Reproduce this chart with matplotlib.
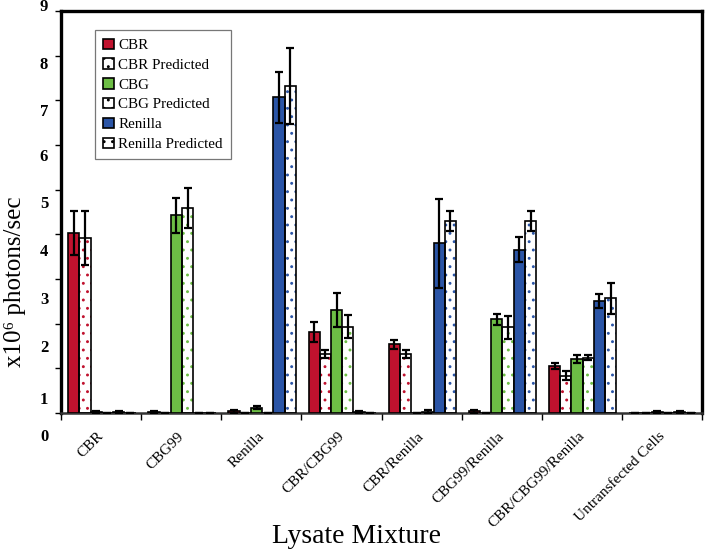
import numpy as np
import matplotlib
matplotlib.use("Agg")
import matplotlib.pyplot as plt
from matplotlib.patches import Patch
import matplotlib.transforms as mtransforms

plt.rcParams['font.family'] = ['Liberation Serif', 'DejaVu Serif']
plt.rcParams['hatch.linewidth'] = 0.9

# data
groups = ['CBR', 'CBG99', 'Renilla', 'CBR/CBG99', 'CBR/Renilla',
          'CBG99/Renilla', 'CBR/CBG99/Renilla', 'Untransfected Cells']
series = ['CBR', 'CBR Predicted', 'CBG', 'CBG Predicted', 'Renilla', 'Renilla Predicted']

cbr      = [4.03, 0.03, 0.04, 1.81, 1.54, 0.04, 1.05, 0.0]
cbr_err  = [0.50, 0.02, 0.03, 0.22, 0.10, 0.03, 0.06, 0.0]
cbr_p    = [3.92, 0.0, 0.0, 1.32, 1.32, 0.0, 0.83, 0.0]
cbr_p_e  = [0.60, 0.0, 0.0, 0.08, 0.08, 0.0, 0.10, 0.0]
cbg      = [0.03, 4.43, 0.12, 2.31, 0.0, 2.10, 1.20, 0.02]
cbg_err  = [0.02, 0.39, 0.03, 0.38, 0.0, 0.12, 0.09, 0.02]
cbg_p    = [0.0, 4.59, 0.0, 1.93, 0.02, 1.92, 1.24, 0.0]
cbg_p_e  = [0.0, 0.45, 0.0, 0.26, 0.05, 0.26, 0.06, 0.0]
ren      = [0.03, 0.0, 7.07, 0.02, 3.80, 3.65, 2.51, 0.02]
ren_err  = [0.02, 0.0, 0.57, 0.02, 1.00, 0.28, 0.15, 0.02]
ren_p    = [0.0, 0.0, 7.32, 0.0, 4.30, 4.30, 2.57, 0.0]
ren_p_e  = [0.0, 0.0, 0.85, 0.0, 0.23, 0.22, 0.35, 0.0]

ytick_text = ['0', '1', '2', '3', '4', '5', '6', '7', '8', '9']

red, green, blue = '#C0122E', '#6DBE45', '#2B55A6'
vals = [cbr, cbr_p, cbg, cbg_p, ren, ren_p]
errs = [cbr_err, cbr_p_e, cbg_err, cbg_p_e, ren_err, ren_p_e]
cols = [red, red, green, green, blue, blue]
pred = [False, True, False, True, False, True]

fig = plt.figure(figsize=(7.08, 5.49), dpi=100)
ax = fig.add_axes([0.0862, 0.2477, 0.9053, 0.7323])

x = np.arange(len(groups))
w = 0.14
for j in range(6):
    pos = x + (j - 2.5) * w + 0.01
    if pred[j]:
        ax.bar(pos, vals[j], w, facecolor='white', edgecolor=cols[j],
               hatch='..', linewidth=0, zorder=2)
        ax.bar(pos, vals[j], w, fill=False, edgecolor='black',
               linewidth=1.2, zorder=3)
    else:
        ax.bar(pos, vals[j], w, color=cols[j], edgecolor='black',
               linewidth=1.2, zorder=3)
    ax.errorbar(pos, vals[j], yerr=errs[j], fmt='none', ecolor='black',
                elinewidth=1.6, capsize=3, capthick=1.6, zorder=4)

ax.set_xlim(-0.5, len(groups) - 0.5)
ax.set_ylim(0, 9)

# x ticks: marks on group boundaries, labels at centres
ax.set_xticks(x - 0.05)
ax.set_xticklabels(groups, rotation=45, ha='right', rotation_mode='anchor',
                   fontsize=11)
ax.tick_params(axis='x', which='major', length=0, pad=12)
ax.set_xticks(np.arange(len(groups) + 1) - 0.5, minor=True)
ax.tick_params(axis='x', which='minor', length=5, width=1, direction='out')

# y ticks: marks at integers, labels as drawn in the original
ax.set_yticks(np.arange(0, 10))
ax.set_yticklabels([])
ax.tick_params(axis='y', length=4, width=1, direction='out')
label_y = [-0.54, 0.29, 1.45, 2.53, 3.6, 4.68, 5.73, 6.74, 7.79, 9.09]
trans = mtransforms.blended_transform_factory(ax.transAxes, ax.transData)
for t, yy in zip(ytick_text, label_y):
    ax.text(-0.02, yy, t, transform=trans, ha='right', va='center',
            fontsize=12, fontweight='bold', clip_on=False)

for s in ['left', 'top', 'right']:
    ax.spines[s].set_linewidth(2.4)
ax.spines['bottom'].set_linewidth(1.8)
ax.spines['bottom'].set_color('#333333')

ax.set_ylabel('x10\u2076 photons/sec', fontsize=18)
ax.yaxis.set_label_coords(-0.054, 0.326)
fig.text(0.503, 0.022, 'Lysate Mixture', ha='center', va='center', fontsize=20)

handles = []
for j in range(6):
    if pred[j]:
        handles.append(Patch(facecolor='white', edgecolor='black',
                             hatch='..', linewidth=1.2))
    else:
        handles.append(Patch(facecolor=cols[j], edgecolor='black', linewidth=1.2))
leg = ax.legend(handles, series, loc='upper left', bbox_to_anchor=(0.053, 0.952),
                fontsize=10.8, frameon=True, fancybox=False, handlelength=0.7,
                handleheight=0.7, handletextpad=0.3, labelspacing=0.42,
                borderpad=0.55, borderaxespad=0)
leg.get_frame().set_edgecolor('#555555')
leg.get_frame().set_linewidth(0.9)

fig.savefig('out.png', dpi=100)
